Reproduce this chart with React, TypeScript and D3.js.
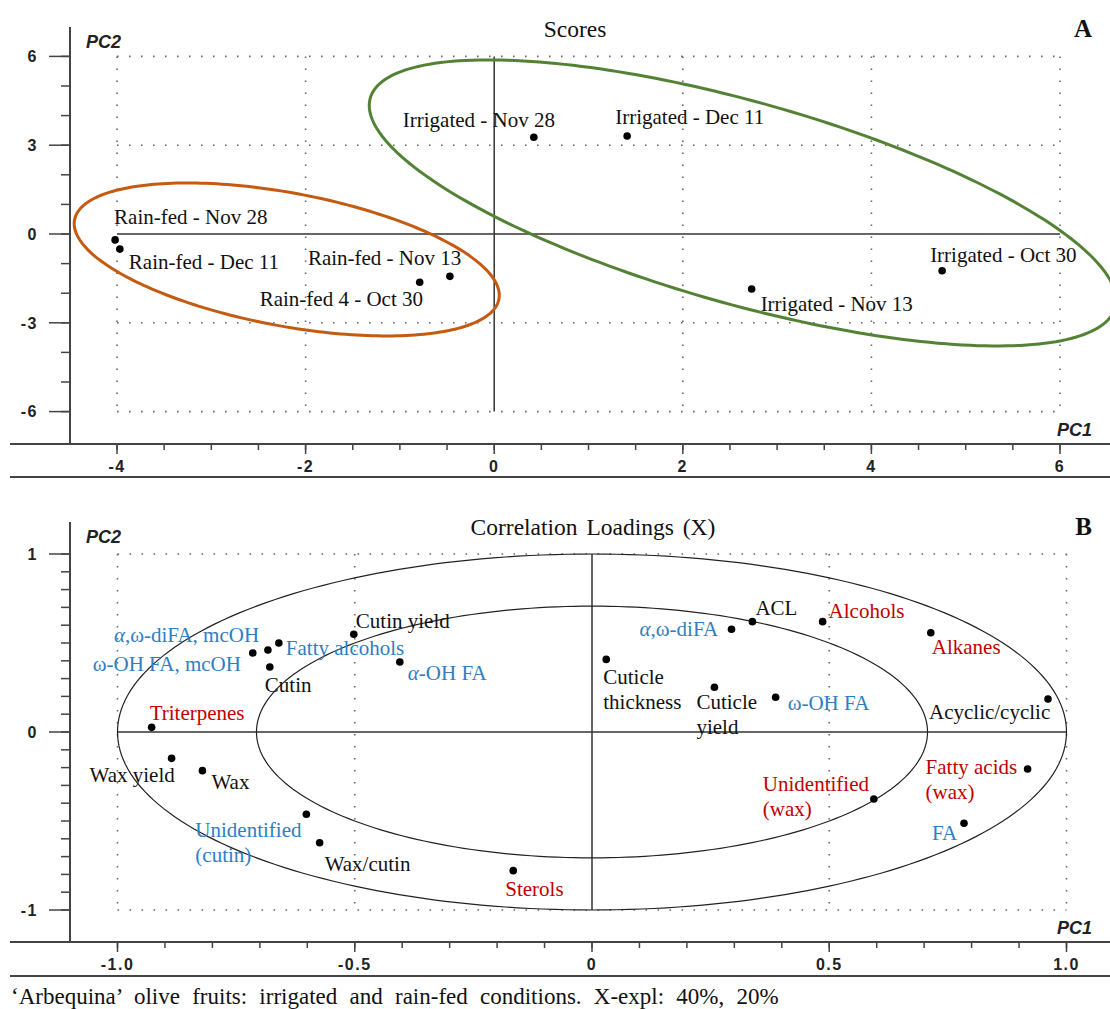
import React, { useRef, useEffect } from "react";
import * as d3 from "d3";

// ---- Panel A: scores ----
const scoreNames = [
  "Rain-fed - Nov 28", "Rain-fed - Dec 11", "Rain-fed - Nov 13", "Rain-fed 4 - Oct 30",
  "Irrigated - Nov 28", "Irrigated - Dec 11", "Irrigated - Nov 13", "Irrigated - Oct 30",
];
const scorePC1 = [-4.02, -3.97, -0.47, -0.79, 0.42, 1.41, 2.73, 4.75];
const scorePC2 = [-0.2, -0.51, -1.43, -1.63, 3.27, 3.31, -1.86, -1.24];
// label placement (px from the point: text start, text middle)
const scoreLabelDx = [-1, 9, -142, -160, -131, -12, 9, -12];
const scoreLabelDy = [-23, 13, -19, 16, -18, -19, 15, -16];

// group ellipses: centre and two conjugate semi-axes, in score units
const ellipseGroups = ["Rain-fed", "Irrigated"];
const ellipseColors = ["#c55a11", "#548235"];
const ellipseCx = [-2.2, 2.635];
const ellipseCy = [-0.86, 1.05];
const ellipseU = [[2.25, -1.34], [3.96, -3.29]];
const ellipseV = [[-0.13, -2.21], [0, 3.54]];

const scoreXTicks = [-4, -2, 0, 2, 4, 6];
const scoreYTicks = [-6, -3, 0, 3, 6];

// ---- Panel B: correlation loadings ----
const loadNames = [
  "Triterpenes", "\u03b1,\u03c9-diFA, mcOH", "\u03c9-OH FA, mcOH", "Fatty alcohols", "Cutin",
  "Cutin yield", "\u03b1-OH FA", "Wax yield", "Wax", "Unidentified\n(cutin)", "Wax/cutin",
  "Sterols", "Cuticle\nthickness", "Cuticle\nyield", "\u03c9-OH FA", "\u03b1,\u03c9-diFA",
  "ACL", "Alcohols", "Alkanes", "Acyclic/cyclic", "Unidentified\n(wax)", "Fatty acids\n(wax)", "FA",
];
const loadPC1 = [
  -0.928, -0.683, -0.715, -0.66, -0.679, -0.502, -0.405, -0.886, -0.821, -0.602, -0.574,
  -0.166, 0.03, 0.258, 0.387, 0.294, 0.338, 0.486, 0.714, 0.961, 0.594, 0.918, 0.784,
];
const loadPC2 = [
  0.026, 0.461, 0.444, 0.5, 0.365, 0.549, 0.393, -0.148, -0.217, -0.462, -0.622,
  -0.779, 0.408, 0.251, 0.195, 0.577, 0.62, 0.62, 0.558, 0.185, -0.376, -0.208, -0.513,
];
const loadGroup = [
  "wax", "cutin", "cutin", "cutin", "other", "other", "cutin", "other", "other", "cutin", "other",
  "wax", "other", "other", "cutin", "cutin", "other", "wax", "wax", "other", "wax", "wax", "cutin",
];
const loadLabelDx = [
  -2, -154, -160, 7, -5, 2, 8, -82, 9, -111, 5,
  -8, -3, -18, 12, -92, 3, 6, 1, -119, -111, -102, -32,
];
const loadLabelDy = [
  -15, -15, 11, 5, 18, -14, 11, 16, 11, 15, 21,
  18, 17, 14, 5, -1, -14, -11, 14, 13, -15, -2, 9,
];
const groupColor: Record<string, string> = { cutin: "#2e7ec4", wax: "#c00000", other: "#111" };

const loadXTicks = [-1, -0.5, 0, 0.5, 1];
const loadXLabels = ["-1.0", "-0.5", "0", "0.5", "1.0"];
const loadYTicks = [-1, 0, 1];
const loadCircleRadii = [1, Math.SQRT1_2];

const caption = "\u2018Arbequina\u2019 olive fruits: irrigated and rain-fed conditions. X-expl: 40%, 20%";

const SERIF = "'Liberation Serif', 'Times New Roman', serif";
const SANS = "'Liberation Sans', Arial, sans-serif";

function drawFrame(g, x, y, o) {
  const [x0, x1] = x.domain();
  const [y0, y1] = y.domain();
  const dot = { stroke: "#666", w: 1.6, dash: "1.6 10.4" };

  // dotted grid
  o.xMajor.filter((v) => v !== 0).forEach((v) => {
    g.append("line").attr("x1", x(v)).attr("x2", x(v)).attr("y1", y(y1)).attr("y2", y(y0))
      .attr("stroke", dot.stroke).attr("stroke-width", dot.w).attr("stroke-dasharray", dot.dash);
  });
  o.yMajor.filter((v) => v !== 0).forEach((v) => {
    g.append("line").attr("x1", x(x0)).attr("x2", x(x1)).attr("y1", y(v)).attr("y2", y(v))
      .attr("stroke", dot.stroke).attr("stroke-width", dot.w).attr("stroke-dasharray", dot.dash);
  });
  // zero lines
  g.append("line").attr("x1", x(0)).attr("x2", x(0)).attr("y1", y(y1)).attr("y2", y(y0))
    .attr("stroke", "#333").attr("stroke-width", 1.5);
  g.append("line").attr("x1", x(x0)).attr("x2", x(x1)).attr("y1", y(0)).attr("y2", y(0))
    .attr("stroke", "#333").attr("stroke-width", 1.5);

  // frame lines
  const fc = "#444";
  g.append("line").attr("x1", o.axisX).attr("x2", o.axisX).attr("y1", o.topY).attr("y2", o.baseY)
    .attr("stroke", fc).attr("stroke-width", 2);
  g.append("line").attr("x1", 10).attr("x2", 1110).attr("y1", o.baseY).attr("y2", o.baseY)
    .attr("stroke", fc).attr("stroke-width", 2);
  g.append("line").attr("x1", 10).attr("x2", 1110).attr("y1", o.sepY).attr("y2", o.sepY)
    .attr("stroke", fc).attr("stroke-width", 2);

  // y ticks
  o.yMinor.forEach((v) => {
    g.append("line").attr("x1", o.axisX - 9).attr("x2", o.axisX).attr("y1", y(v)).attr("y2", y(v))
      .attr("stroke", fc).attr("stroke-width", 1.5);
  });
  o.yMajor.forEach((v, i) => {
    g.append("line").attr("x1", o.axisX - 21).attr("x2", o.axisX).attr("y1", y(v)).attr("y2", y(v))
      .attr("stroke", fc).attr("stroke-width", 1.5);
    g.append("text").attr("x", 38).attr("y", y(v)).attr("dy", "0.36em")
      .attr("text-anchor", "end").attr("font-family", SANS).attr("font-weight", "bold")
      .attr("font-size", 16).attr("letter-spacing", 1.5).attr("fill", "#222")
      .text(o.yLabels[i]);
  });
  // x ticks
  o.xMinor.forEach((v) => {
    g.append("line").attr("x1", x(v)).attr("x2", x(v)).attr("y1", o.baseY).attr("y2", o.baseY + 6)
      .attr("stroke", fc).attr("stroke-width", 1.5);
  });
  o.xMajor.forEach((v, i) => {
    g.append("line").attr("x1", x(v)).attr("x2", x(v)).attr("y1", o.baseY).attr("y2", o.baseY + 10)
      .attr("stroke", fc).attr("stroke-width", 1.5);
    g.append("text").attr("x", x(v)).attr("y", o.baseY + 28)
      .attr("text-anchor", "middle").attr("font-family", SANS).attr("font-weight", "bold")
      .attr("font-size", 16).attr("letter-spacing", 1.5).attr("fill", "#222")
      .text(o.xLabels[i]);
  });

  // axis names
  g.append("text").attr("x", 86).attr("y", o.topY + 21).attr("font-family", SANS)
    .attr("font-style", "italic").attr("font-weight", "bold").attr("font-size", 18).attr("fill", "#222")
    .text("PC2");
  g.append("text").attr("x", 1092).attr("y", o.baseY - 8).attr("text-anchor", "end").attr("font-family", SANS)
    .attr("font-style", "italic").attr("font-weight", "bold").attr("font-size", 18).attr("fill", "#222")
    .text("PC1");

  // title and panel letter
  g.append("text").attr("x", o.titleX).attr("y", o.titleY).attr("text-anchor", "middle")
    .attr("font-family", SERIF).attr("font-size", 23.5).attr("word-spacing", 3).attr("fill", "#111").text(o.title);
  g.append("text").attr("x", 1092).attr("y", o.titleY).attr("text-anchor", "end")
    .attr("font-family", SERIF).attr("font-weight", "bold").attr("font-size", 25).attr("fill", "#111")
    .text(o.letter);
}

function addLabel(g, px, py, name, color) {
  name.split("\n").forEach((line, li) => {
    const t = g.append("text").attr("x", px).attr("y", py + li * 25).attr("dy", "0.35em")
      .attr("font-family", SERIF).attr("font-size", 21).attr("fill", color);
    const parts = line.split("\u03b1");
    parts.forEach((p, pi) => {
      if (pi > 0) t.append("tspan").attr("font-style", "italic").text("\u03b1");
      if (p) t.append("tspan").text(p);
    });
  });
}

const App = () => {
  const svgRef = useRef<SVGSVGElement>(null);

  useEffect(() => {
    const svg = d3.select(svgRef.current);
    svg.selectAll("*").remove();
    svg.append("rect").attr("width", 1110).attr("height", 1009).attr("fill", "#fff");

    const tAngles = d3.range(0, 2 * Math.PI, Math.PI / 120);

    // ---------- Panel A ----------
    const xA = d3.scaleLinear().domain([-4, 6]).range([117, 1060]);
    const yA = d3.scaleLinear().domain([-6, 6]).range([411.6, 56.4]);
    const gA = svg.append("g");
    drawFrame(gA, xA, yA, {
      axisX: 70, topY: 27, baseY: 444, sepY: 477,
      xMajor: scoreXTicks, xMinor: d3.range(-4, 6.01, 0.5), xLabels: scoreXTicks.map(String),
      yMajor: scoreYTicks, yMinor: d3.range(-6, 6.01, 1), yLabels: scoreYTicks.map(String),
      title: "Scores", titleX: 575, titleY: 37, letter: "A",
    });

    const lineA = d3.line<number[]>().x((d) => xA(d[0])).y((d) => yA(d[1])).curve(d3.curveLinearClosed);
    ellipseGroups.forEach((_, k) => {
      const pts = tAngles.map((t) => [
        ellipseCx[k] + ellipseU[k][0] * Math.cos(t) + ellipseV[k][0] * Math.sin(t),
        ellipseCy[k] + ellipseU[k][1] * Math.cos(t) + ellipseV[k][1] * Math.sin(t),
      ]);
      gA.append("path").attr("d", lineA(pts)).attr("fill", "none")
        .attr("stroke", ellipseColors[k]).attr("stroke-width", 3);
    });

    scoreNames.forEach((name, i) => {
      const px = xA(scorePC1[i]);
      const py = yA(scorePC2[i]);
      gA.append("circle").attr("cx", px).attr("cy", py).attr("r", 3.8).attr("fill", "#000");
      addLabel(gA, px + scoreLabelDx[i], py + scoreLabelDy[i], name, "#111");
    });

    // ---------- Panel B ----------
    const xB = d3.scaleLinear().domain([-1, 1]).range([117.5, 1066.5]);
    const yB = d3.scaleLinear().domain([-1, 1]).range([910, 554]);
    const gB = svg.append("g");
    drawFrame(gB, xB, yB, {
      axisX: 70, topY: 522, baseY: 942, sepY: 976,
      xMajor: loadXTicks, xMinor: d3.range(-10, 10.1, 1).map((v) => v / 10), xLabels: loadXLabels,
      yMajor: loadYTicks, yMinor: d3.range(-10, 10.1, 1).map((v) => v / 10), yLabels: loadYTicks.map(String),
      title: "Correlation Loadings (X)", titleX: 593, titleY: 535, letter: "B",
    });

    const lineB = d3.line<number[]>().x((d) => xB(d[0])).y((d) => yB(d[1])).curve(d3.curveLinearClosed);
    loadCircleRadii.forEach((r) => {
      const pts = tAngles.map((t) => [r * Math.cos(t), r * Math.sin(t)]);
      gB.append("path").attr("d", lineB(pts)).attr("fill", "none")
        .attr("stroke", "#222").attr("stroke-width", 1.2);
    });

    loadNames.forEach((name, i) => {
      const px = xB(loadPC1[i]);
      const py = yB(loadPC2[i]);
      gB.append("circle").attr("cx", px).attr("cy", py).attr("r", 3.8).attr("fill", "#000");
      addLabel(gB, px + loadLabelDx[i], py + loadLabelDy[i], name, groupColor[loadGroup[i]]);
    });

    // caption
    svg.append("text").attr("x", 11).attr("y", 1004).attr("font-family", SERIF)
      .attr("font-size", 23).attr("word-spacing", 6.5).attr("fill", "#111").text(caption);
  }, []);

  return (
    <div style={{ position: "absolute", left: 0, top: 0 }}>
      <svg ref={svgRef} width={1110} height={1009} style={{ display: "block" }}></svg>
    </div>
  );
};

export default App;
